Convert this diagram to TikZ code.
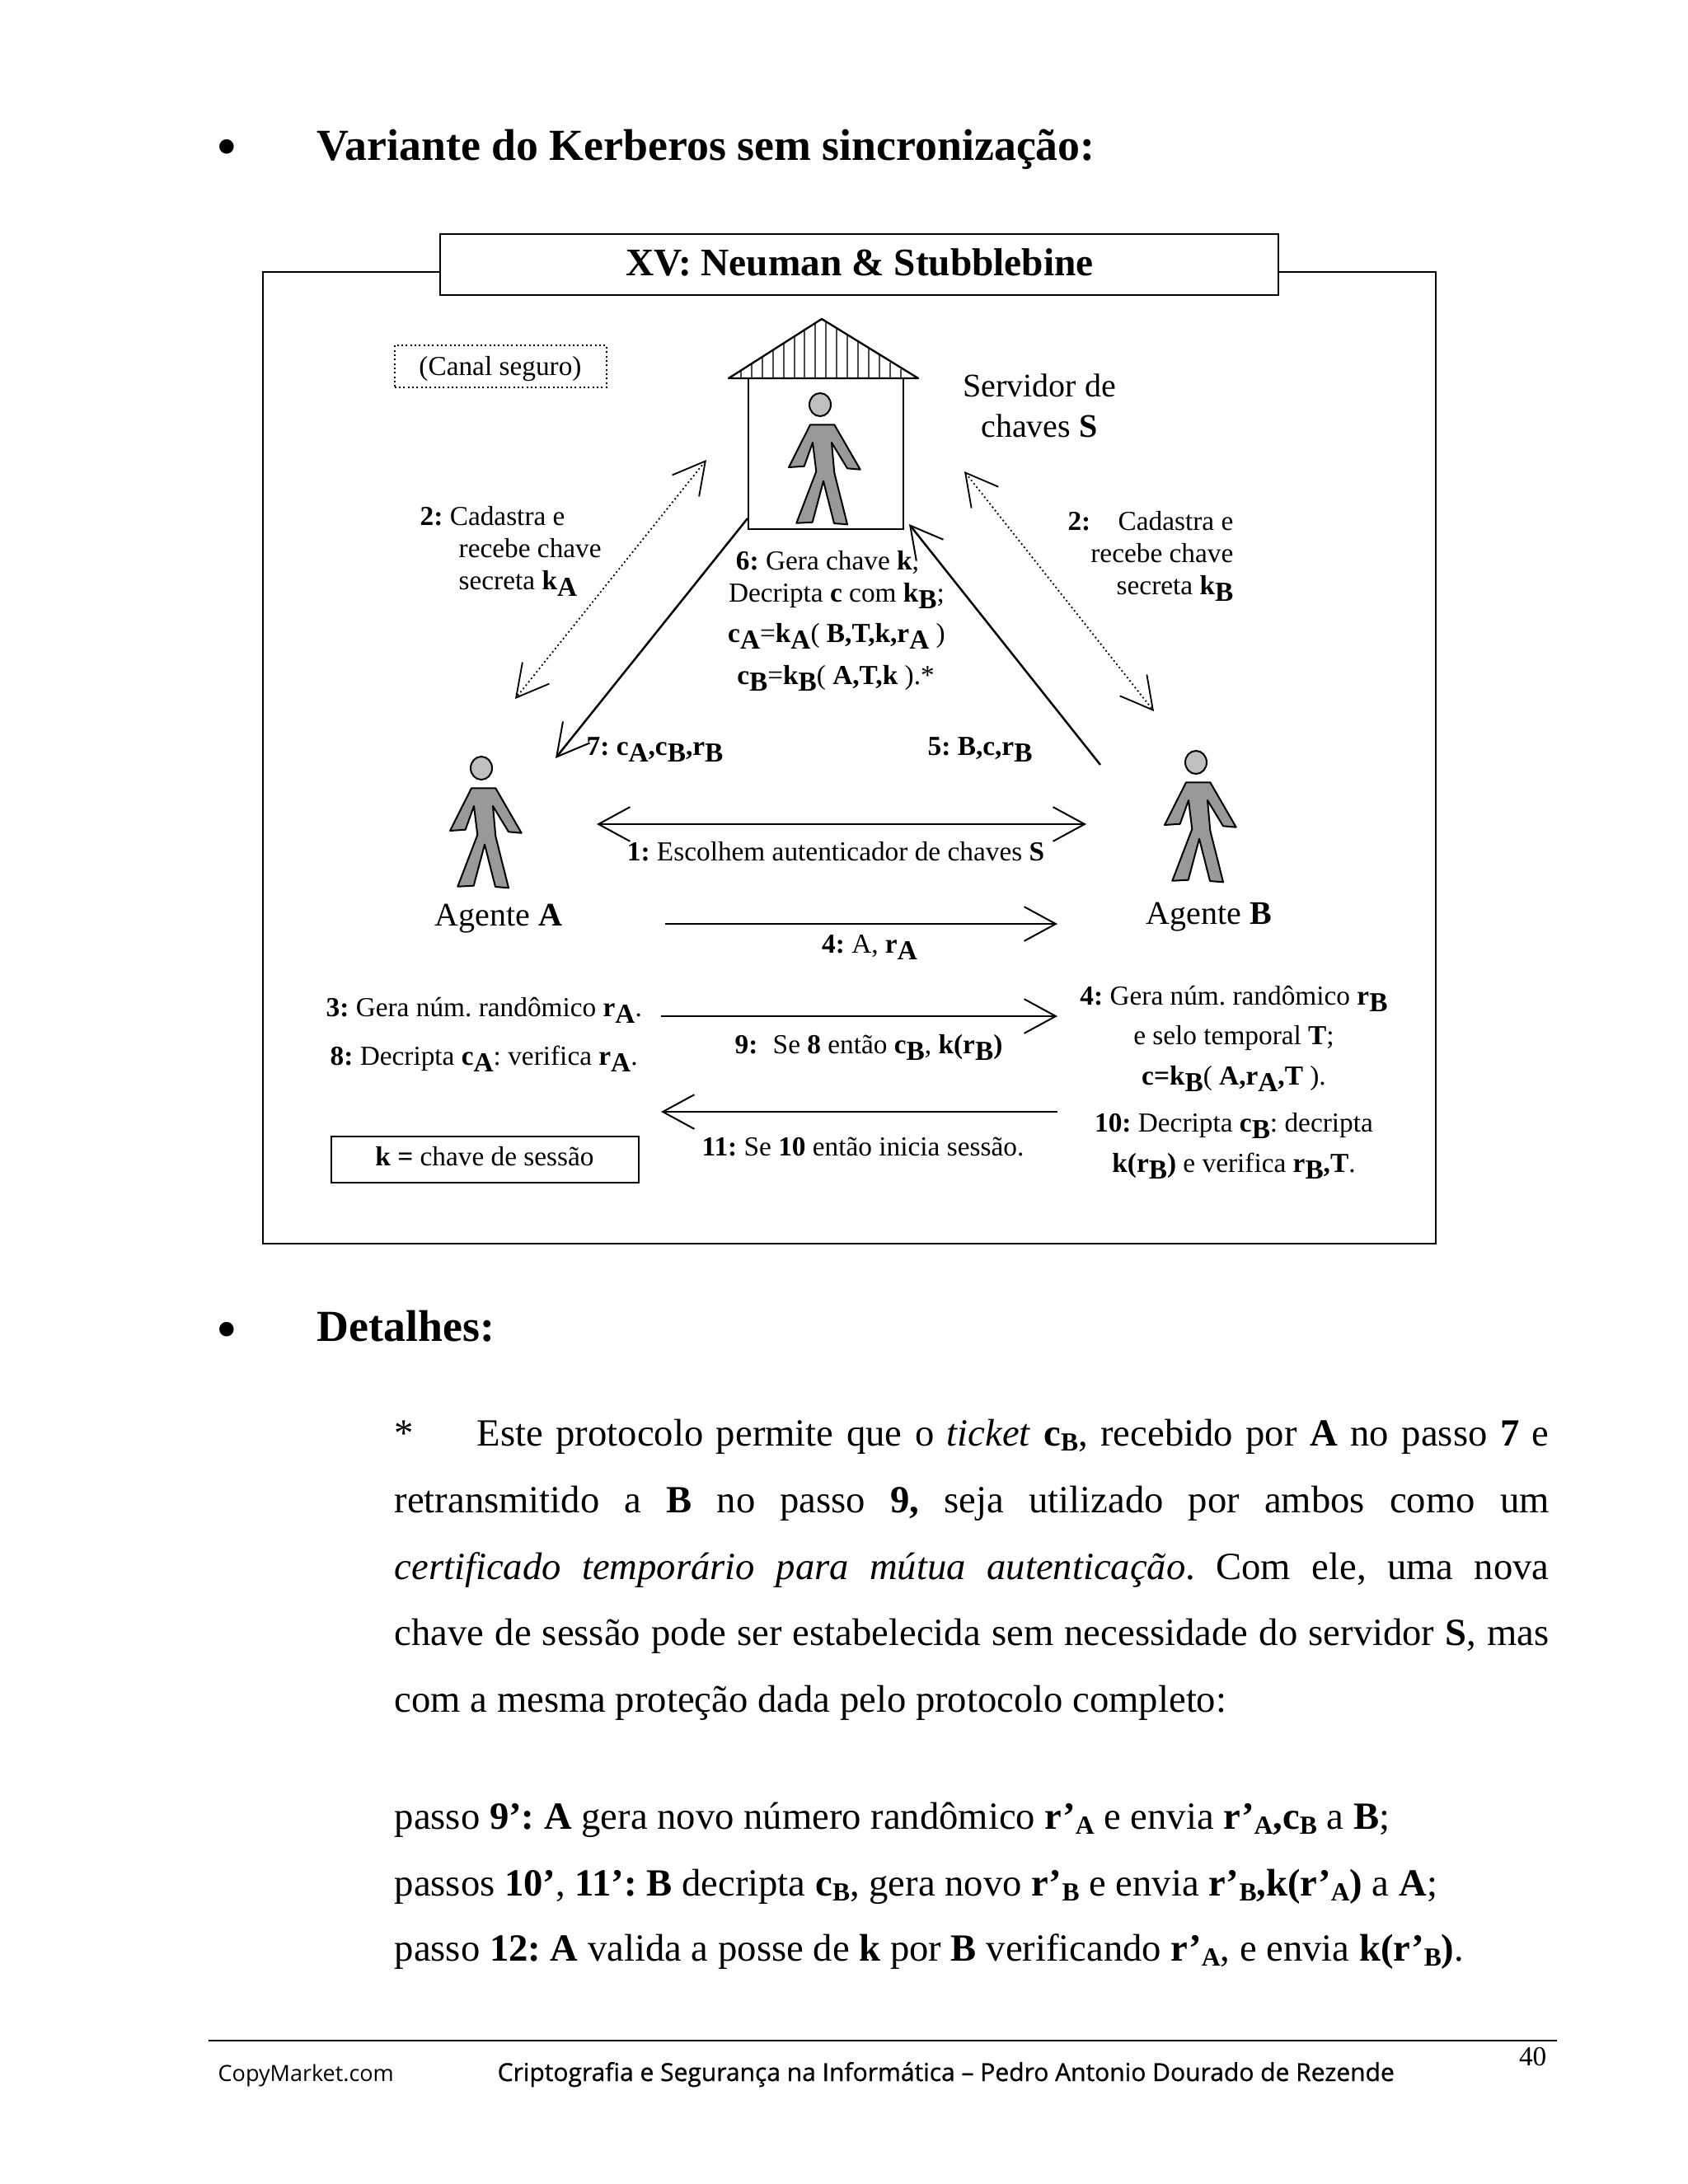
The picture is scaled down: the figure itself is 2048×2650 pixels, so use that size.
\documentclass[tikz,border=0pt]{standalone}
\usepackage{fontspec}
\setmainfont{Liberation Serif}
\newfontfamily\footA{Open Sans}
\newfontfamily\footB[FakeBold=0.9]{Open Sans}
\usetikzlibrary{arrows.meta}
\newcommand{\sbb}[1]{\raisebox{-0.55ex}{\textbf{#1}}}
\newcommand{\ssb}[1]{\raisebox{-0.3ex}{\fontsize{9.5}{10}\selectfont\textbf{#1}}}
\newcommand{\bl}[1]{\textbf{#1}}
\frenchspacing
\tikzset{
  x=0.3pt,y=-0.3pt,
  lbl/.style={anchor=base,inner sep=0pt,font=\fontsize{10}{12}\selectfont},
  lblw/.style={lbl,anchor=base west},
  lble/.style={lbl,anchor=base east},
  big/.style={lbl,font=\fontsize{12}{14}\selectfont},
  body/.style={anchor=base west,inner sep=0pt,font=\fontsize{14}{16}\selectfont},
  head/.style={anchor=base west,inner sep=0pt,font=\fontsize{16.15}{18}\selectfont\bfseries},
  bulletmark/.style={anchor=center,inner sep=0pt,font=\fontsize{22}{24}\selectfont},
  frame/.style={draw=black,line width=0.75pt},
  arr/.style={line width=0.75pt,-{Straight Barb[length=11.5pt,width=12.5pt,line width=0.6pt]}},
  darr/.style={line width=0.75pt,{Straight Barb[length=11.5pt,width=12.5pt,line width=0.6pt]}-{Straight Barb[length=11.5pt,width=12.5pt,line width=0.6pt]}},
  dotarr/.style={line width=0.55pt,densely dotted,{Straight Barb[length=11.5pt,width=12.5pt,line width=0.55pt]}-{Straight Barb[length=11.5pt,width=12.5pt,line width=0.55pt]}},
  bodyfill/.style={draw=black,line width=0.6pt,fill=black!40,line join=round},
  headfill/.style={draw=black,line width=0.6pt,fill=black!25},
}
\newcommand{\person}[2]{%
  \begin{scope}[shift={(#1,#2)}]
  \draw[headfill] (0,0) ellipse[x radius=13,y radius=14];
  \draw[bodyfill] (-12,24.3)--(17.3,24.3)--(48.7,78.7)--(33,77.3)--(14,46)--(17.3,82.7)--(33,145.3)--(17,144)--(4,92.7)--(-9.3,142.7)--(-28.7,143.7)--(-4.7,81)--(-9,46)--(-19.3,74.7)--(-38,76)--cycle;
  \end{scope}}
\begin{document}
\begin{tikzpicture}
\useasboundingbox (0,0) rectangle (2048,2650);
\fill[white] (0,0) rectangle (2048,2650);
% heading
\node[bulletmark] (b1) at (275,186) {\textbullet};
\node[head] (h1) at (384,194) {Variante do Kerberos sem sincronização:};
% frame
\draw[frame] (319,330) rectangle (1742,1509);
\node[frame,fill=white,minimum width=305.1pt,minimum height=22.2pt,inner sep=0pt] (title) at (1042.5,321) {};
\node[lbl,font=\fontsize{14.2}{16}\selectfont\bfseries] (titletxt) at (1043,334) {XV: Neuman \& Stubblebine};
% dotted box
\node[draw=black,densely dotted,line width=0.6pt,minimum width=77.1pt,minimum height=15.3pt,inner sep=0pt] (canal) at (607,444.5) {};
\node[lbl] (canaltxt) at (607,455) {(Canal seguro)};
% house
\draw[black!70,line width=0.6pt] \foreach \i in {0,...,15} {(899+\i*12.9,459) -- (899+\i*12.9,{387+72*abs(899+\i*12.9-997)/113})};
\draw[line width=0.7pt,line join=round] (884,459)--(997,387)--(1114,459)--cycle;
\draw[line width=0.7pt] (908,459) rectangle (1096,642);
\person{995}{491}
\person{584}{932}
\person{1451}{925}
\node[big] (srv1) at (1261,481) {Servidor de};
\node[big] (srv2) at (1261,530) {chaves \bl{S}};
% arrows
\coordinate (da1) at (857,558); \coordinate (da2) at (625,848);
\coordinate (db1) at (1170,572); \coordinate (db2) at (1400,863);
\coordinate (s7a) at (907,629); \coordinate (s7b) at (674,920);
\coordinate (s5a) at (1335,928); \coordinate (s5b) at (1103,636);
\coordinate (m1a) at (724,1000); \coordinate (m1b) at (1318,1000);
\coordinate (m4a) at (807,1121); \coordinate (m4b) at (1283,1121);
\coordinate (m9a) at (802,1233); \coordinate (m9b) at (1283,1233);
\coordinate (m11a) at (1283,1349); \coordinate (m11b) at (802,1349);
\draw[dotarr] (da1)--(da2);
\draw[dotarr] (db1)--(db2);
\draw[arr] (s7a)--(s7b);
\draw[arr] (s5a)--(s5b);
\draw[darr] (m1a)--(m1b);
\draw[arr] (m4a)--(m4b);
\draw[arr] (m9a)--(m9b);
\draw[arr] (m11a)--(m11b);
% labels
\node[lblw] (l2a) at (509,637) {\bl{2:} Cadastra e};
\node[lblw] (l2b) at (556,676) {recebe chave};
\node[lblw] (l2c) at (556,715) {secreta \bl{k}\sbb{A}};
\node[lble] (r2a) at (1497,643) {\bl{2:}\hspace{1em}Cadastra e};
\node[lble] (r2b) at (1497,682) {recebe chave};
\node[lble] (r2c) at (1497,721) {secreta \bl{k}\sbb{B}};
\node[lbl] (c6a) at (1004,691) {\bl{6:} Gera chave \bl{k},};
\node[lbl] (c6b) at (1015,730) {Decripta \bl{c} com \bl{k}\sbb{B};};
\node[lbl] (c6c) at (1015,779) {\bl{c}\sbb{A}=\bl{k}\sbb{A}( \bl{B,T,k,r}\sbb{A} )};
\node[lbl] (c6d) at (1014,830) {\bl{c}\sbb{B}=\bl{k}\sbb{B}( \bl{A,T,k} ).*};
\node[lblw] (l7) at (711,916) {\bl{7: c}\sbb{A}\bl{,c}\sbb{B}\bl{,r}\sbb{B}};
\node[lblw] (l5) at (1125,916) {\bl{5: B,c,r}\sbb{B}};
\node[lbl] (l1) at (1014,1044) {\bl{1:} Escolhem autenticador de chaves \bl{S}};
\node[big] (aga) at (605,1123) {Agente \bl{A}};
\node[big] (agb) at (1467,1121) {Agente \bl{B}};
\node[lbl] (l4) at (1055,1156) {\bl{4:} A, \bl{r}\sbb{A}};
\node[lblw] (l3) at (395,1233) {\bl{3:} Gera núm. randômico \bl{r}\sbb{A}.};
\node[lblw] (l8) at (400,1292) {\bl{8:} Decripta \bl{c}\sbb{A}: verifica \bl{r}\sbb{A}.};
\node[lbl] (l9) at (1054,1278) {\bl{9:}\hspace{0.3em} Se \bl{8} então \bl{c}\sbb{B}, \bl{k(r}\sbb{B}\bl{)}};
\node[lbl] (g4a) at (1497,1219) {\bl{4:} Gera núm. randômico \bl{r}\sbb{B}};
\node[lbl] (g4b) at (1497,1267) {e selo temporal \bl{T};};
\node[lbl] (g4c) at (1497,1316) {\bl{c=k}\sbb{B}( \bl{A,r}\sbb{A}\bl{,T} ).};
\node[lbl] (g10a) at (1497,1373) {\bl{10:} Decripta \bl{c}\sbb{B}: decripta};
\node[lbl] (g10b) at (1497,1422) {\bl{k(r}\sbb{B}\bl{)} e verifica \bl{r}\sbb{B}\bl{,T}.};
\node[lbl] (l11) at (1047,1402) {\bl{11:} Se \bl{10} então inicia sessão.};
\node[frame,minimum width=111.9pt,minimum height=16.8pt,inner sep=0pt] (kbox) at (588.5,1407) {};
\node[lbl] (ktxt) at (588,1414) {\bl{k =} chave de sessão};
% details
\node[bulletmark] (b2) at (275,1621) {\textbullet};
\node[head] (h2) at (384,1627) {Detalhes:};
\node[body] (p0) at (478,1754) {*};
\node[body] (p1) at (578,1754) {\makebox[390.3pt][s]{Este protocolo permite que o \textit{ticket} \bl{c}\ssb{B}, recebido por \bl{A} no passo \bl{7} e}};
\node[body] (p2) at (478,1835) {\makebox[420.3pt][s]{retransmitido a \bl{B} no passo \bl{9,} seja utilizado por ambos como um}};
\node[body] (p3) at (478,1916) {\makebox[420.3pt][s]{\textit{certificado temporário para mútua autenticação}. Com ele, uma nova}};
\node[body] (p4) at (478,1996) {\makebox[420.3pt][s]{chave de sessão pode ser estabelecida sem necessidade do servidor \bl{S}, mas}};
\node[body] (p5) at (478,2077) {com a mesma proteção dada pelo protocolo completo:};
\node[body] (q1) at (478,2219) {passo \bl{9’: A} gera novo número randômico \bl{r’}\ssb{A} e envia \bl{r’}\ssb{A}\bl{,c}\ssb{B} a \bl{B};};
\node[body] (q2) at (478,2300) {passos \bl{10’}, \bl{11’: B} decripta \bl{c}\ssb{B}, gera novo \bl{r’}\ssb{B} e envia \bl{r’}\ssb{B}\bl{,k(r’}\ssb{A}\bl{)} a \bl{A};};
\node[body] (q3) at (478,2379) {passo \bl{12: A} valida a posse de \bl{k} por \bl{B} verificando \bl{r’}\ssb{A}, e envia \bl{k(r’}\ssb{B}\bl{)}.};
% footer
\coordinate (fa) at (253,2476); \coordinate (fb) at (1889,2476);
\draw[line width=0.6pt] (fa)--(fb);
\node[anchor=base east,inner sep=0pt,font=\fontsize{10}{12}\selectfont] (pg) at (1877,2506) {40};
\node[anchor=base west,inner sep=0pt,font=\footA\fontsize{8.1}{10}\selectfont] (cm) at (264,2525) {CopyMarket.com};
\node[anchor=base west,inner sep=0pt,font=\footB\fontsize{9}{10}\selectfont] (ft) at (603,2525) {Criptografia e Segurança na Informática – Pedro Antonio Dourado de Rezende};
\end{tikzpicture}
\end{document}
